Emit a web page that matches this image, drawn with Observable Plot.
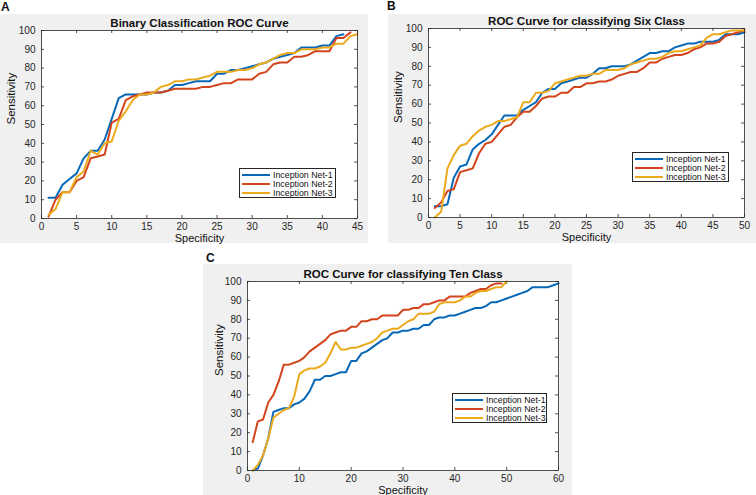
<!DOCTYPE html>
<html>
<head>
<meta charset="utf-8">
<script src="https://cdn.jsdelivr.net/npm/d3@7"></script>
<script src="https://cdn.jsdelivr.net/npm/@observablehq/plot@0.6"></script>
<style>
  html, body { margin: 0; padding: 0; background: white; }
  #root { position: relative; width: 756px; height: 495px; overflow: hidden; font-family: "Liberation Sans", Arial, sans-serif; }
  .panel { position: absolute; background: #f0f0f0; }
  .plabel { position: absolute; font-weight: bold; font-size: 12px; color: #111; }
  .legend { position: absolute; background: white; border: 1px solid #262626; box-sizing: border-box; padding: 1px 2px; overflow: hidden; }
  .legend .row { display: flex; align-items: center; height: 9.2px; font-size: 8.8px; color: #111; white-space: nowrap; }
  .legend .sw { width: 28px; height: 2px; margin-right: 3px; flex: none; }
</style>
</head>
<body>
<div id="root"></div>
<script>
// ---------- DATA ----------
const seriesNames = ["Inception Net-1", "Inception Net-2", "Inception Net-3"];
const seriesColors = ["#0868B8", "#D2451C", "#EBAA1C"];
const yTicks = [0, 10, 20, 30, 40, 50, 60, 70, 80, 90, 100];

// Panel A: Binary classification (values at specificity 1, 2, 3, ...)
const titleA = "Binary Classification ROC Curve";
const xTicksA = [0, 5, 10, 15, 20, 25, 30, 35, 40, 45];
const a_net1 = [11,11,18,21,24,32,36,36,42,53, 64,66,66,66,66,67,67,68,71,71, 72,73,73,73,77,77,79,79,80,81, 82,83,85,86,87,88,91,91,91,92, 92,97,98];
const a_net2 = [1,10,14,14,20,22,32,33,34,51, 53,63,65,66,67,67,67,68,69,69, 69,69,70,70,71,72,72,74,74,74, 77,78,82,83,83,86,86,87,89,89, 89,96,96,99];
const a_net3 = [2,5,14,14,22,25,36,34,40,41, 52,57,63,66,66,67,70,71,73,73, 74,74,75,76,78,78,78,79,79,80, 82,83,85,87,88,88,90,90,90,91, 91,93,93,97,98];

// Panel B: six class
const titleB = "ROC Curve for classifying Six Class";
const xTicksB = [0, 5, 10, 15, 20, 25, 30, 35, 40, 45, 50];
const b_net1 = [6,6,7,21,27,28,36,39,41,44, 49,54,54,54,57,59,61,66,68,68, 71,72,73,74,74,76,79,79,80,80, 80,81,83,85,87,87,88,88,90,91, 92,92,93,93,93,94,97,97,97,98];
const b_net2 = [5,8,14,15,24,25,26,34,39,40, 44,48,49,53,56,56,59,63,64,64, 66,66,69,69,71,71,72,72,73,75, 76,77,77,79,82,82,84,85,86,86, 87,89,90,92,92,93,96,97,98,99];
const b_net3 = [0,3,26,33,38,39,43,46,48,49, 51,51,52,53,61,61,66,66,67,71, 72,73,74,75,75,76,76,78,78,78, 79,81,82,83,84,84,85,87,88,88, 89,90,91,95,97,97,98,99,99,99];

// Panel C: ten class
const titleC = "ROC Curve for classifying Ten Class";
const xTicksC = [0, 10, 20, 30, 40, 50, 60];
const c_net1 = [0,1,8,17,31,32,33,33,35,36, 38,42,48,48,50,50,51,52,52,58, 58,62,63,65,67,69,70,73,73,74, 74,75,75,77,77,80,81,81,82,82, 83,84,85,86,86,87,89,89,90,91, 92,93,94,95,97,97,97,97,98,99];
const c_net2 = [15,26,27,36,40,47,56,56,57,58, 60,63,65,67,69,72,73,74,74,76, 76,79,79,80,80,82,82,82,82,85, 85,86,86,88,88,89,90,90,92,92, 92,92,94,95,96,96,98,99,99];
const c_net3 = [0,3,8,17,28,30,32,33,39,51, 53,54,54,55,57,62,68,64,64,65, 65,66,67,68,70,73,74,75,75,77, 79,80,83,83,83,84,88,89,89,89, 90,92,92,94,95,95,96,97,97,100];

// ---------- DRAWING ----------
const root = document.getElementById("root");
const axisColor = "#262626";
const font = "'Liberation Sans', Arial, Helvetica, sans-serif";

function toRows(values, k) {
  return values.map((v, i) => ({spec: i + 1, sens: v, series: seriesNames[k]}));
}

function panel(cfg) {
  const div = document.createElement("div");
  div.className = "panel";
  Object.assign(div.style, {left: cfg.left + "px", top: cfg.top + "px", width: cfg.w + "px", height: cfg.h + "px"});
  root.appendChild(div);

  const ph = cfg.h - cfg.mt - cfg.mb;
  const pw = cfg.w - cfg.ml - cfg.mr;
  const tl = 3;
  const lines = cfg.series.map((vals, k) =>
    Plot.line(toRows(vals, k), {x: "spec", y: "sens", stroke: seriesColors[k], strokeWidth: 2, strokeLinejoin: "round"})
  );

  const svg = Plot.plot({
    width: cfg.w, height: cfg.h,
    marginLeft: cfg.ml, marginRight: cfg.mr, marginTop: cfg.mt, marginBottom: cfg.mb,
    style: {background: "transparent", fontFamily: font, color: axisColor, overflow: "visible"},
    x: {domain: [0, cfg.xmax]},
    y: {domain: [0, 100]},
    marks: [
      Plot.frame({fill: "white", stroke: null}),
      Plot.axisX(cfg.xTicks, {tickSize: 0, tickPadding: 4, fontSize: 10, label: null, fill: axisColor}),
      Plot.axisY(yTicks, {tickSize: 0, tickPadding: 6, fontSize: 10, label: null, fill: axisColor}),
      Plot.ruleX(cfg.xTicks, {x: d => d, insetTop: ph - tl, stroke: axisColor, strokeWidth: 0.8}),
      Plot.ruleX(cfg.xTicks, {x: d => d, insetBottom: ph - tl, stroke: axisColor, strokeWidth: 0.8}),
      Plot.ruleY(yTicks, {y: d => d, insetRight: pw - tl, stroke: axisColor, strokeWidth: 0.8}),
      Plot.ruleY(yTicks, {y: d => d, insetLeft: pw - tl, stroke: axisColor, strokeWidth: 0.8}),
      ...lines,
      Plot.frame({stroke: axisColor, strokeWidth: 0.8}),
      Plot.text([cfg.title], {frameAnchor: "top", lineAnchor: "middle", dy: -7, fontWeight: "bold", fontSize: 11.5, fill: "#111"}),
      Plot.text(["Specificity"], {frameAnchor: "bottom", lineAnchor: "middle", dy: 19.5, fontSize: 11, fill: "#111"}),
      Plot.text(["Sensitivity"], {frameAnchor: "left", lineAnchor: "middle", dx: -cfg.ylab, rotate: -90, fontSize: 11.5, fill: "#111"})
    ]
  });
  div.appendChild(svg);

  const lab = document.createElement("div");
  lab.className = "plabel";
  lab.textContent = cfg.label;
  Object.assign(lab.style, {left: cfg.labX + "px", top: cfg.labY + "px"});
  root.appendChild(lab);

  const lg = document.createElement("div");
  lg.className = "legend";
  Object.assign(lg.style, {left: cfg.lg[0] + "px", top: cfg.lg[1] + "px", width: cfg.lg[2] + "px", height: cfg.lg[3] + "px"});
  seriesNames.forEach((n, k) => {
    const row = document.createElement("div");
    row.className = "row";
    const sw = document.createElement("div");
    sw.className = "sw";
    sw.style.background = seriesColors[k];
    const t = document.createElement("span");
    t.textContent = n;
    row.appendChild(sw); row.appendChild(t);
    lg.appendChild(row);
  });
  root.appendChild(lg);
}

panel({left: 0, top: 14, w: 368, h: 229, ml: 41, mr: 11, mt: 16, mb: 25, xmax: 45, xTicks: xTicksA,
  title: titleA, series: [a_net1, a_net2, a_net3], ylab: 30, label: "A", labX: 1, labY: 0, lg: [239, 168, 97, 30]});
panel({left: 388, top: 14, w: 368, h: 229, ml: 40, mr: 12, mt: 14, mb: 26, xmax: 50, xTicks: xTicksB,
  title: titleB, series: [b_net1, b_net2, b_net3], ylab: 30, label: "B", labX: 387, labY: -1, lg: [632, 152, 97, 30]});
panel({left: 203, top: 264, w: 369, h: 231, ml: 44, mr: 14, mt: 17, mb: 25, xmax: 60, xTicks: xTicksC,
  title: titleC, series: [c_net1, c_net2, c_net3], ylab: 28, label: "C", labX: 206, labY: 251, lg: [452, 393, 95, 30]});
</script>
</body>
</html>
